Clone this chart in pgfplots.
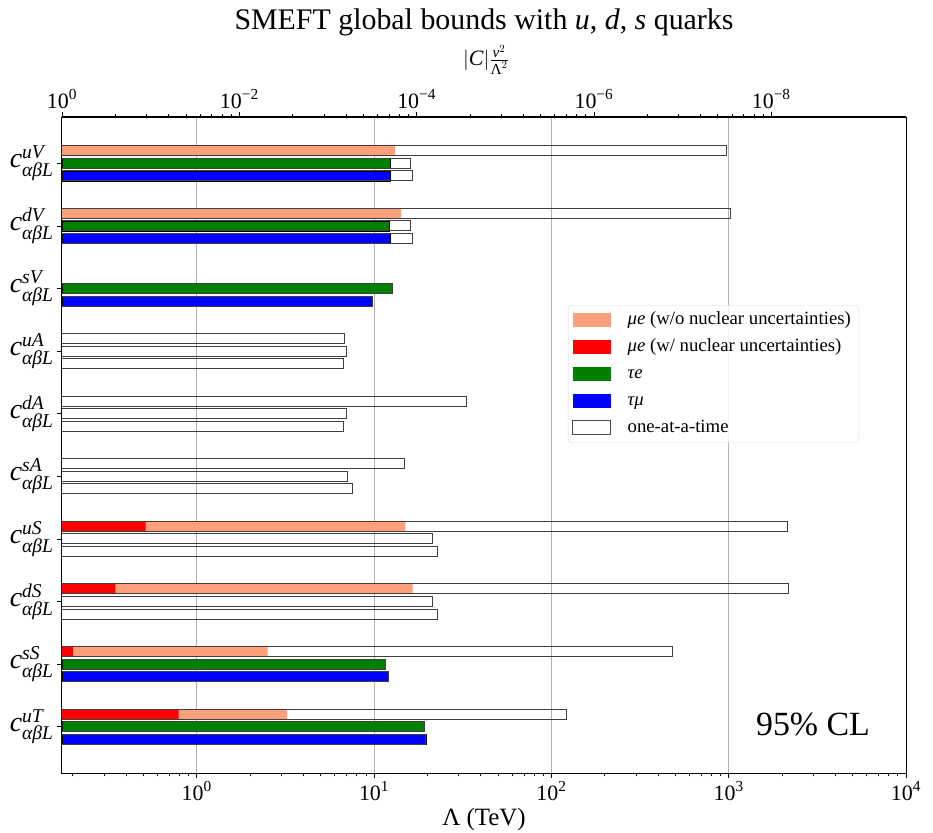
\documentclass[border=0pt]{standalone}
\usepackage{pgfplots}
\pgfplotsset{compat=1.18}
\usepackage{amsmath}
\usepackage{fontspec}
\setmainfont{Liberation Serif}
\definecolor{salmonc}{HTML}{FFA07A}
\definecolor{redc}{HTML}{FF0000}
\definecolor{greenc}{HTML}{008000}
\definecolor{bluec}{HTML}{0000FF}
\newcommand{\fs}[1]{\fontsize{#1}{#1}\selectfont}
\newcommand{\cl}[1]{$\textit{c}^{\textit{#1}}_{\textit{αβL}}$}
\pgfplotsset{mypatch/.style={legend image code/.code={\path[##1, fill opacity=1, sharp corners] (0bp,-7bp) rectangle (38bp,7bp);\path[draw=none, fill=none] (0bp,0bp) -- (51bp,0bp);}}}
\begin{document}
\begin{tikzpicture}
\useasboundingbox (0bp,0bp) rectangle (933bp,833bp);
\begin{axis}[
  at={(62bp,60bp)}, anchor=south west,
  scale only axis, width=844bp, height=656bp,
  xmode=log, xmin=0.1738, xmax=10000, log origin x=infty,
  ymin=-0.74, ymax=9.74, y dir=reverse,
  xtick={1,10,100,1000,10000},
  xticklabels={$\text{10}^{\text{0}}$,$\text{10}^{\text{1}}$,$\text{10}^{\text{2}}$,$\text{10}^{\text{3}}$,$\text{10}^{\text{4}}$},
  minor xtick={0.2,0.3,0.4,0.5,0.6,0.7,0.8,0.9,2,3,4,5,6,7,8,9,20,30,40,50,60,70,80,90,200,300,400,500,600,700,800,900,2000,3000,4000,5000,6000,7000,8000,9000},
  ytick={0,1,2,3,4,5,6,7,8,9},
  yticklabels={\cl{uV},\cl{dV},\cl{sV},\cl{uA},\cl{dA},\cl{sA},\cl{uS},\cl{dS},\cl{sS},\cl{uT}},
  xtick pos=left, ytick pos=left,
  tick align=outside,
  major tick length=5bp, minor tick length=3bp,
  xmajorgrids, major grid style={black!30, line width=0.8bp},
  axis line style={line width=1bp}, tick style={black, line width=0.8bp},
  x tick label style={font=\fs{22}},
  y tick label style={font=\fs{28}},
  xlabel={Λ (TeV)}, xlabel style={font=\fs{25}},
  legend style={at={(0.5995,0.713)}, anchor=north west, font=\fs{18.8},
    draw=black!15, fill=white, fill opacity=0.8, text opacity=1, rounded corners=3bp,
    inner xsep=4bp, inner ysep=1bp, row sep=0bp,
    nodes={inner sep=4bp, text height=14bp, text depth=5bp}},
  legend cell align=left,
]
\addlegendimage{mypatch, draw=none, fill=salmonc}
\addlegendimage{mypatch, draw=none, fill=redc}
\addlegendimage{mypatch, draw=none, fill=greenc}
\addlegendimage{mypatch, draw=none, fill=bluec}
\addlegendimage{mypatch, draw=black!70, fill=white, line width=1bp}
\legend{\textit{μe} (w/o nuclear uncertainties), \textit{μe} (w/ nuclear uncertainties), \textit{τe}, \textit{τμ}, one-at-a-time}
% mu e without nuclear uncertainties
\addplot[xbar, bar shift=0pt, bar width=0.16, fill=salmonc, draw=none] coordinates {
 (13.1,-0.2) (14.2,0.8) (15.0,5.8) (16.5,6.8) (2.51,7.8) (3.23,8.8)};
% mu e with nuclear uncertainties
\addplot[xbar, bar shift=0pt, bar width=0.16, fill=redc, draw=none] coordinates {
 (0.515,5.8) (0.348,6.8) (0.20,7.8) (0.79,8.8)};
% tau e
\addplot[xbar, bar shift=0pt, bar width=0.16, fill=greenc, draw=black, line width=0.6bp] coordinates {
 (12.4,0) (12.2,1) (12.6,2) (11.6,8) (19.2,9)};
% tau mu
\addplot[xbar, bar shift=0pt, bar width=0.16, fill=bluec, draw=black, line width=0.6bp] coordinates {
 (12.4,0.2) (12.4,1.2) (9.8,2.2) (12.0,8.2) (19.6,9.2)};
% one-at-a-time outlines
\addplot[xbar, bar shift=0pt, bar width=0.16, fill=none, draw=black!75, line width=1bp] coordinates {
 (976,-0.2) (1024,0.8) (6.8,2.8) (33.2,3.8) (14.9,4.8) (2150,5.8) (2170,6.8) (484,7.8) (121,8.8)};
\addplot[xbar, bar shift=0pt, bar width=0.16, fill=none, draw=black!75, line width=1bp] coordinates {
 (16.0,0) (16.0,1) (12.65,2) (6.95,3) (6.95,4) (7.04,5) (21.4,6) (21.4,7) (11.6,8) (19.2,9)};
\addplot[xbar, bar shift=0pt, bar width=0.16, fill=none, draw=black!75, line width=1bp] coordinates {
 (16.4,0.2) (16.4,1.2) (9.8,2.2) (6.7,3.2) (6.7,4.2) (7.57,5.2) (22.9,6.2) (22.9,7.2) (12.0,8.2) (19.6,9.2)};
\end{axis}
\begin{axis}[
  at={(62bp,60bp)}, anchor=south west,
  scale only axis, width=844bp, height=656bp,
  xmode=log, xmin=0.1738, xmax=10000,
  ymin=0, ymax=1,
  axis x line*=top, axis y line=none,
  xtick={0.17381,1.7381,17.381,173.81,1738.1},
  xticklabels={$\text{10}^{\text{0}}$,$\text{10}^{\text{−2}}$,$\text{10}^{\text{−4}}$,$\text{10}^{\text{−6}}$,$\text{10}^{\text{−8}}$},
  minor xtick={},
  tick align=outside, major tick length=5bp,
  axis line style={line width=1bp}, tick style={black, line width=0.8bp},
  x tick label style={font=\fs{22}},
]
\end{axis}
\node[font=\fs{30}, anchor=base] at (484bp,803bp) {SMEFT global bounds with \textit{u}, \textit{d}, \textit{s} quarks};
\node[font=\fs{22}] at (486bp,773bp) {$|\textit{C}|\frac{\textit{v}^2}{\text{Λ}^2}$};
\node[font=\fs{34}] at (813bp,109bp) {95\% CL};
\end{tikzpicture}
\end{document}
